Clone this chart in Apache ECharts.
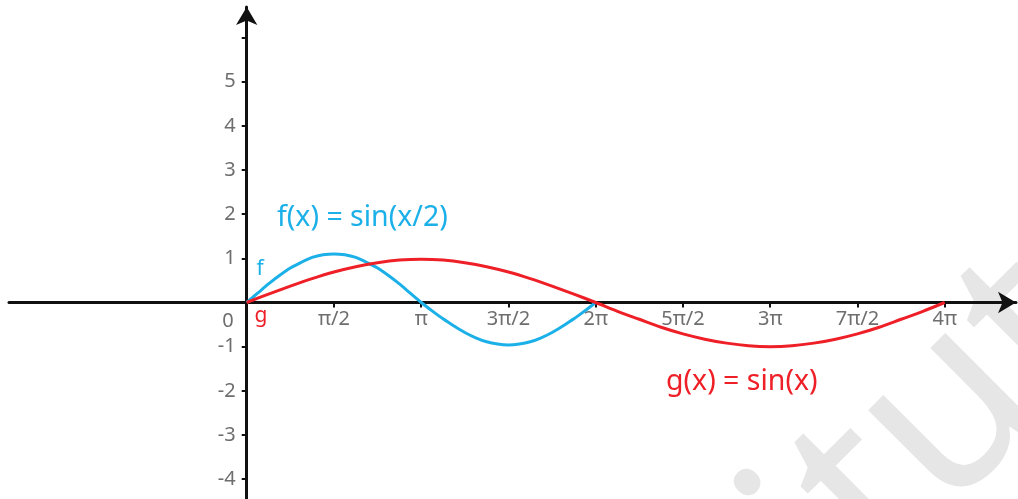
<!DOCTYPE html>
<html>
<head>
<meta charset="utf-8">
<script src="https://cdn.jsdelivr.net/npm/echarts@6/dist/echarts.min.js"></script>
<style>
  html, body { margin: 0; padding: 0; background: #ffffff; }
  #chart { width: 1018px; height: 499px; }
</style>
</head>
<body>
<div id="chart"></div>
<script>
// x values are in multiples of pi
const fX = [0, 0.0625, 0.125, 0.1875, 0.25, 0.3125, 0.375, 0.4375, 0.5, 0.5625, 0.625, 0.6875, 0.75, 0.8125, 0.875, 0.9375, 1,
            1.0625, 1.125, 1.1875, 1.25, 1.3125, 1.375, 1.4375, 1.5, 1.5625, 1.625, 1.6875, 1.75, 1.8125, 1.875, 1.9375, 2];
const fY = [0, 0.21, 0.42, 0.61, 0.78, 0.91, 1.02, 1.08, 1.1, 1.08, 1.02, 0.91, 0.78, 0.61, 0.42, 0.21, 0,
            -0.19, -0.37, -0.53, -0.68, -0.8, -0.89, -0.94, -0.96, -0.94, -0.89, -0.8, -0.68, -0.53, -0.37, -0.19, 0];

const gX = [0, 0.125, 0.25, 0.375, 0.5, 0.625, 0.75, 0.875, 1, 1.125, 1.25, 1.375, 1.5, 1.625, 1.75, 1.875, 2,
            2.125, 2.25, 2.375, 2.5, 2.625, 2.75, 2.875, 3, 3.125, 3.25, 3.375, 3.5, 3.625, 3.75, 3.875, 4];
const gY = [0, 0.19, 0.37, 0.54, 0.69, 0.81, 0.9, 0.96, 0.98, 0.96, 0.9, 0.81, 0.69, 0.54, 0.37, 0.19, 0,
            -0.2, -0.38, -0.56, -0.71, -0.83, -0.92, -0.98, -1.0, -0.98, -0.92, -0.83, -0.71, -0.56, -0.38, -0.2, 0];

const xTickValues = [0.5, 1, 1.5, 2, 2.5, 3, 3.5, 4];
const xTickLabels = ['π/2', 'π', '3π/2', '2π', '5π/2', '3π', '7π/2', '4π'];
const yTickValues = [-4, -3, -2, -1, 0, 1, 2, 3, 4, 5, 6];
const yLabelValues = [-4, -3, -2, -1, 0, 1, 2, 3, 4, 5];

const BLUE = '#1cb0e8';
const RED = '#ee1f26';
const AXIS = '#111111';
const LABEL = '#6e6e6e';
const LABEL_FONT = '"Noto Sans", sans-serif';
const LABEL_SIZE = 20;

// canvas layout (px)
const W = 1018, H = 499;
const GRID = { left: 9, right: 2, top: 7, bottom: 0 };
const ORIGIN = { x: 246.7, y: 302.5 };
const X_MIN = -1.3622, X_MAX = 4.4086;
const Y_MIN = -4.4487, Y_MAX = 6.690;

// watermark text placement: put the dot of the first visible "i" at a chosen point
const WM_SIZE = 240;
const wmFont = WM_SIZE + 'px "Noto Sans"';
const measureCtx = document.createElement('canvas').getContext('2d');
measureCtx.font = wmFont;
const wInst = measureCtx.measureText('inst').width;
const wI = measureCtx.measureText('i').width;

const chart = echarts.init(document.getElementById('chart'), null, { renderer: 'canvas' });

const option = {
  animation: false,
  backgroundColor: '#ffffff',
  grid: {
    left: GRID.left, right: GRID.right, top: GRID.top, bottom: GRID.bottom,
    containLabel: false,
    outerBoundsMode: 'none'
  },
  xAxis: {
    type: 'value',
    min: X_MIN,
    max: X_MAX,
    position: 'bottom',
    // move the axis up to the y = 0 line
    offset: -(H - GRID.bottom - ORIGIN.y),
    splitLine: { show: false },
    axisLine: {
      onZero: false,
      symbol: ['none', 'arrow'],
      symbolSize: [16, 18],
      lineStyle: { color: AXIS, width: 3 }
    },
    axisTick: {
      customValues: xTickValues,
      length: 5,
      lineStyle: { color: AXIS, width: 2 }
    },
    axisLabel: {
      customValues: xTickValues,
      margin: 7,
      color: LABEL,
      fontSize: LABEL_SIZE,
      fontFamily: LABEL_FONT,
      formatter: function (v) {
        const i = xTickValues.indexOf(v);
        return i >= 0 ? xTickLabels[i] : '';
      }
    }
  },
  yAxis: {
    type: 'value',
    min: Y_MIN,
    max: Y_MAX,
    position: 'left',
    // move the axis right to the x = 0 line
    offset: -(ORIGIN.x - GRID.left),
    splitLine: { show: false },
    axisLine: {
      onZero: false,
      symbol: ['none', 'arrow'],
      symbolSize: [16, 18],
      lineStyle: { color: AXIS, width: 3 }
    },
    axisTick: {
      customValues: yTickValues,
      length: 5,
      lineStyle: { color: AXIS, width: 2 }
    },
    axisLabel: {
      customValues: yLabelValues,
      margin: 11,
      color: LABEL,
      fontSize: LABEL_SIZE,
      fontFamily: LABEL_FONT,
      formatter: function (v) {
        return v === 0 ? '{z|0}' : String(v);
      },
      rich: {
        z: { padding: [37, 2, 0, 0], color: LABEL, fontSize: LABEL_SIZE, fontFamily: LABEL_FONT }
      }
    }
  },
  series: [
    {
      name: 'f',
      type: 'line',
      data: fX.map((x, i) => [x, fY[i]]),
      showSymbol: false,
      smooth: 0.3,
      lineStyle: { color: BLUE, width: 3 },
      z: 3
    },
    {
      name: 'g',
      type: 'line',
      data: gX.map((x, i) => [x, gY[i]]),
      showSymbol: false,
      smooth: 0.3,
      lineStyle: { color: RED, width: 3 },
      z: 4
    }
  ],
  graphic: [
    {
      type: 'text',
      x: 743, y: 478,
      rotation: Math.PI / 4,
      silent: true,
      z: -10,
      style: {
        text: 'institute',
        x: -(wInst + wI / 2),
        y: 0.42 * WM_SIZE,
        font: wmFont,
        fill: '#e6e6e6',
        textAlign: 'left',
        textVerticalAlign: 'middle'
      }
    },
    {
      type: 'text', x: 277, y: 218, z: 10,
      style: { text: 'f(x) = sin(x/2)', fill: BLUE, font: '28.5px "Noto Sans"', textVerticalAlign: 'middle' }
    },
    {
      type: 'text', x: 666, y: 382, z: 10,
      style: { text: 'g(x) = sin(x)', fill: RED, font: '28.5px "Noto Sans"', textVerticalAlign: 'middle' }
    },
    {
      type: 'text', x: 260, y: 269, z: 10,
      style: { text: 'f', fill: BLUE, font: '21px "Noto Sans"', textAlign: 'center', textVerticalAlign: 'middle' }
    },
    {
      type: 'text', x: 261, y: 316, z: 10,
      style: { text: 'g', fill: RED, font: '21px "Noto Sans"', textAlign: 'center', textVerticalAlign: 'middle' }
    }
  ]
};

chart.setOption(option);
</script>
</body>
</html>
